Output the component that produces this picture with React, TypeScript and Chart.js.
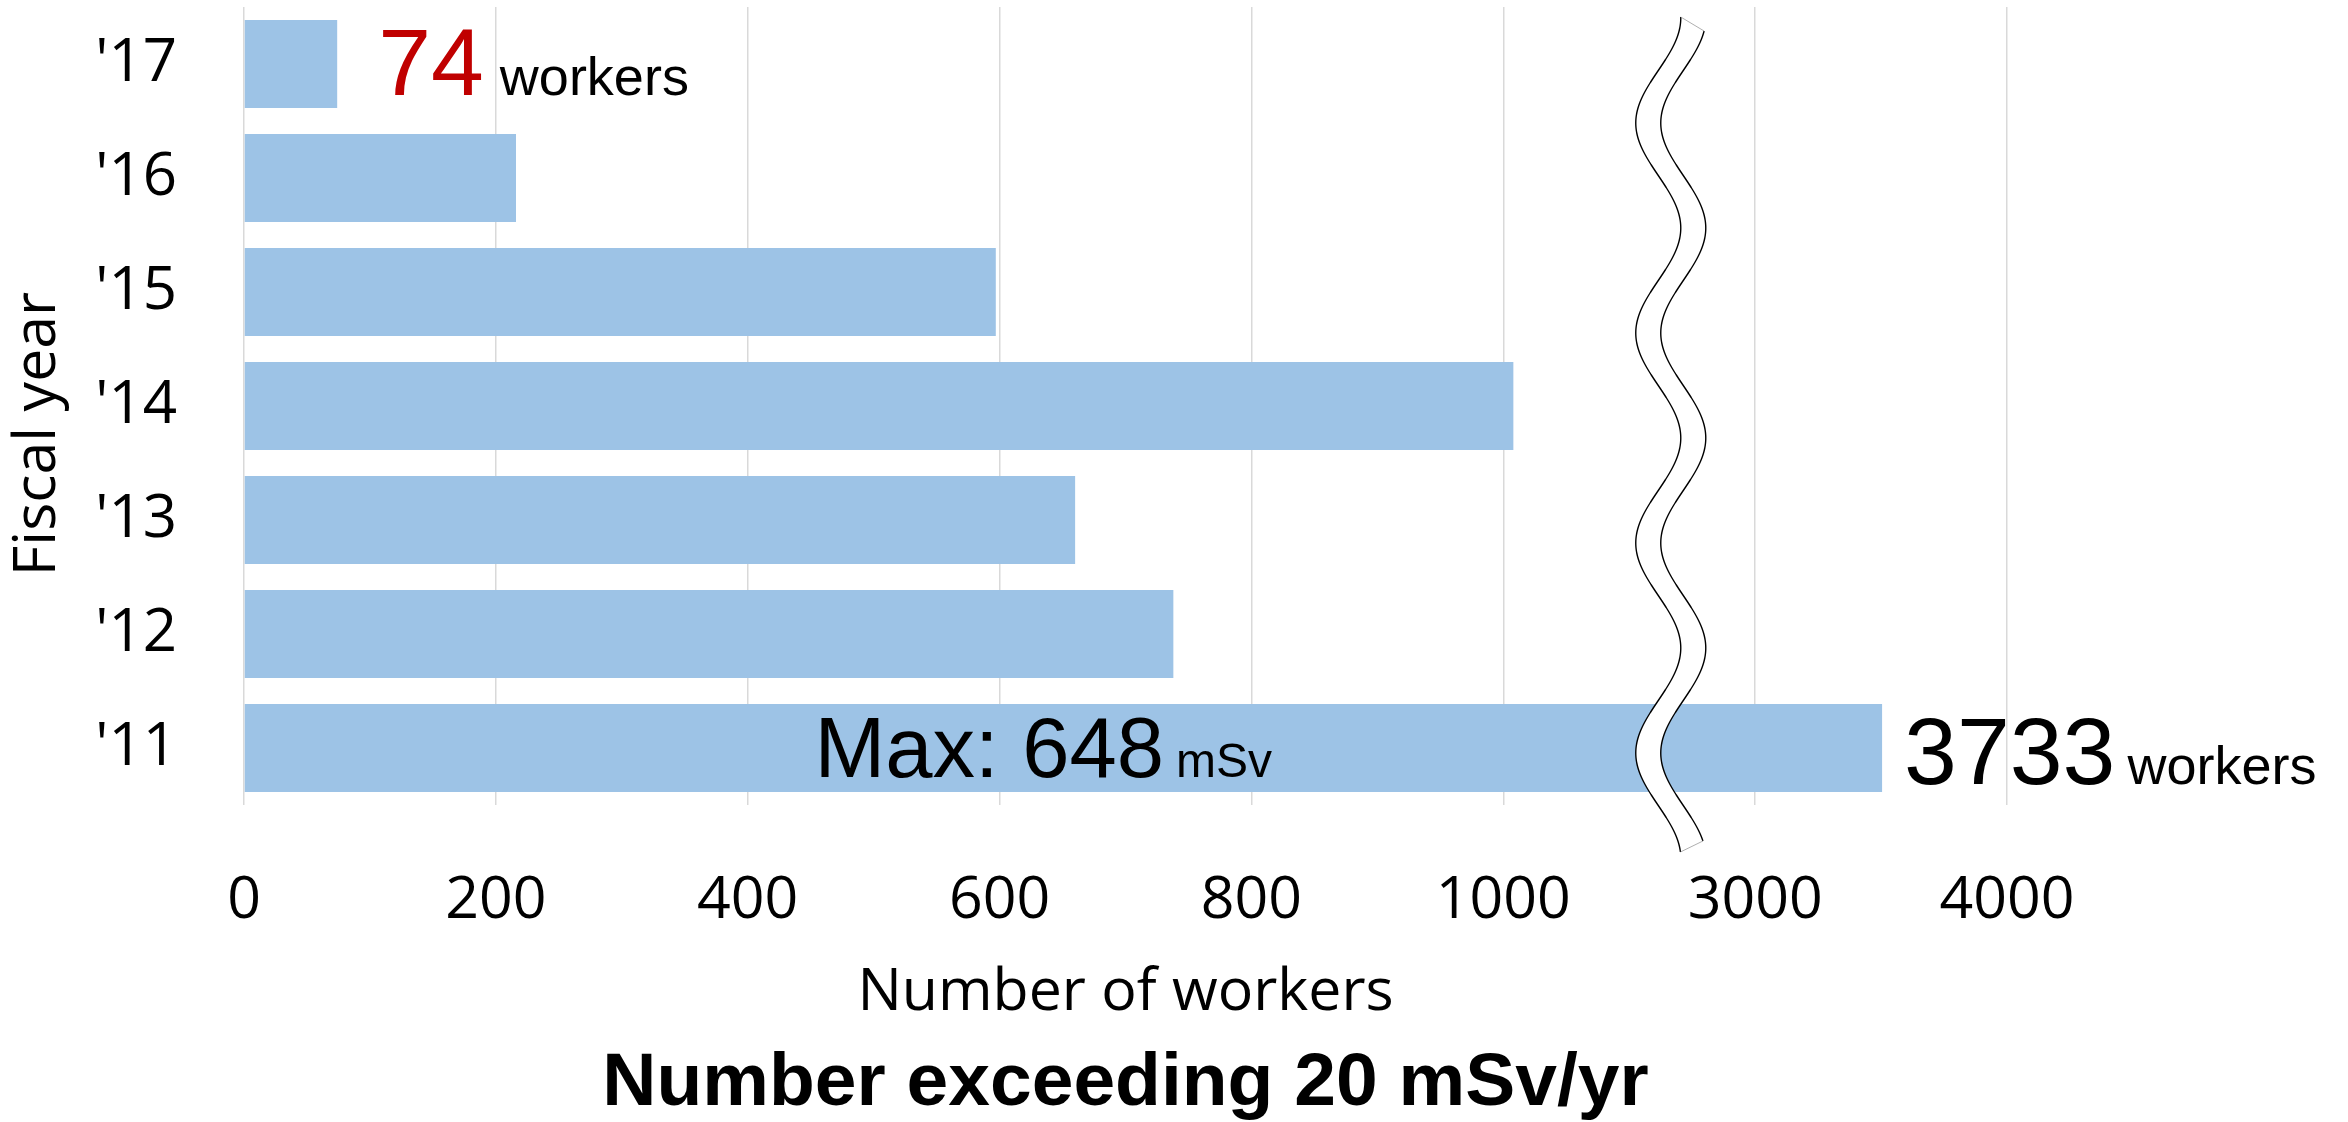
import { useEffect, useRef } from "react";
import { Chart, registerables } from "chart.js";

Chart.register(...registerables);

// ---- data ----
const fiscalYears = ["'11", "'12", "'13", "'14", "'15", "'16", "'17"];
// bar lengths as drawn on the (broken) x axis, in workers
const workersOver20 = [3504, 738, 660, 1008, 597, 216, 74];
const xTickLabels = [0, 200, 400, 600, 800, 1000, 3000, 4000];
const latestCount = "74";
const firstYearCount = "3733";
const firstYearMaxDose = "648";
const unitWorkers = "workers";
const unitDose = "mSv";

// broken axis: 0..1000 linear, then 3000..4000 squeezed into two tick steps
const BREAK_FROM = 1000;
const BREAK_TO = 3000;
const STEP = 200;
const AFTER_BREAK_SCALE = 5; // 1000 workers per 200 axis units after the break
const toAxis = (v: number) =>
  v < BREAK_TO ? v : BREAK_FROM + STEP + (v - BREAK_TO) / AFTER_BREAK_SCALE;
const AXIS_MAX = toAxis(xTickLabels[xTickLabels.length - 1]);
const BREAK_MARK_AT = 1133; // axis units where the wavy break sits
const Y_TITLE_SHIFT = 28;

const SANS = "'Open Sans', 'Noto Sans', sans-serif";
const ARIAL = "'Liberation Sans', Arial, sans-serif";

const axisBreakPlugin = {
  id: "axisBreak",
  afterDatasetsDraw(chart: any) {
    const { ctx, chartArea } = chart;
    const xs = chart.scales.x;
    const cx = xs.getPixelForValue(BREAK_MARK_AT);
    const amp = 22.5;
    const period = 210;
    const gap = 25;
    const top = chartArea.top + 10;
    const bottom = chartArea.bottom + 47;
    const phase = chartArea.top + 116;
    const xl = (y: number) =>
      cx - gap / 2 - amp * Math.cos((2 * Math.PI * (y - phase)) / period);
    const xr = (y: number) => xl(y) + gap;
    const topR = top + 14;
    const botR = bottom - 11;

    ctx.save();
    ctx.beginPath();
    ctx.moveTo(xl(top), top);
    for (let y = top; y <= bottom; y += 1) ctx.lineTo(xl(y), y);
    ctx.lineTo(xl(bottom), bottom);
    ctx.lineTo(xr(botR), botR);
    for (let y = botR; y >= topR; y -= 1) ctx.lineTo(xr(y), y);
    ctx.lineTo(xr(topR), topR);
    ctx.closePath();
    ctx.fillStyle = "#ffffff";
    ctx.fill();

    ctx.strokeStyle = "#000000";
    ctx.lineWidth = 1.4;
    ctx.beginPath();
    ctx.moveTo(xl(top), top);
    for (let y = top; y <= bottom; y += 1) ctx.lineTo(xl(y), y);
    ctx.stroke();
    ctx.beginPath();
    ctx.moveTo(xr(topR), topR);
    for (let y = topR; y <= botR; y += 1) ctx.lineTo(xr(y), y);
    ctx.stroke();

    ctx.strokeStyle = "#9a9a9a";
    ctx.lineWidth = 0.8;
    ctx.beginPath();
    ctx.moveTo(xl(top), top);
    ctx.lineTo(xr(topR), topR);
    ctx.moveTo(xl(bottom), bottom);
    ctx.lineTo(xr(botR), botR);
    ctx.stroke();
    ctx.restore();
  },
};

function drawPair(
  ctx: CanvasRenderingContext2D,
  x: number,
  baseline: number,
  big: string,
  bigSize: number,
  bigColor: string,
  small: string,
  smallSize: number,
  gap: number
) {
  ctx.textAlign = "left";
  ctx.textBaseline = "alphabetic";
  ctx.font = `${bigSize}px ${ARIAL}`;
  ctx.fillStyle = bigColor;
  ctx.fillText(big, x, baseline);
  const w = ctx.measureText(big).width;
  ctx.font = `${smallSize}px ${ARIAL}`;
  ctx.fillStyle = "#000000";
  ctx.fillText(small, x + w + gap, baseline);
}

const calloutPlugin = {
  id: "callouts",
  afterDraw(chart: any) {
    const { ctx } = chart;
    const meta = chart.getDatasetMeta(0);
    const last = meta.data[fiscalYears.length - 1];
    const first = meta.data[0];
    const xs = chart.scales.x;
    ctx.save();
    drawPair(ctx, last.x + 41, last.y + 31, latestCount, 95, "#C00000", unitWorkers, 54, 16);
    drawPair(ctx, first.x + 22, first.y + 36, firstYearCount, 95, "#000000", unitWorkers, 54, 12);
    drawPair(ctx, xs.getPixelForValue(453), first.y + 29, `Max: ${firstYearMaxDose}`, 85, "#000000", unitDose, 48, 12);
    ctx.restore();
  },
};

export default function App() {
  const canvasRef = useRef<HTMLCanvasElement | null>(null);

  useEffect(() => {
    document.body.style.margin = "0";
    const canvas = canvasRef.current;
    if (!canvas) return;
    const chart = new Chart(canvas, {
      type: "bar",
      data: {
        labels: fiscalYears,
        datasets: [
          {
            data: workersOver20.map(toAxis),
            backgroundColor: "#9DC3E6",
            borderWidth: 0,
            barPercentage: 0.772,
            categoryPercentage: 1,
          },
        ],
      },
      options: {
        indexAxis: "y",
        responsive: false,
        maintainAspectRatio: false,
        animation: false,
        layout: { padding: { top: 7, right: 341, bottom: 0, left: 0 } },
        plugins: {
          legend: { display: false },
          tooltip: { enabled: false },
          title: {
            display: true,
            text: "Number exceeding 20 mSv/yr",
            position: "bottom",
            fullSize: false,
            color: "#000000",
            font: { family: ARIAL, size: 75, weight: "bold", lineHeight: 1 },
            padding: 0,
          },
        },
        scales: {
          x: {
            type: "linear",
            min: 0,
            max: AXIS_MAX,
            afterBuildTicks: (scale: any) => {
              scale.ticks = xTickLabels.map((_, i) => ({ value: i * STEP }));
            },
            ticks: {
              color: "#000000",
              font: { family: SANS, size: 59 },
              padding: 61,
              maxRotation: 0,
              autoSkip: false,
              callback: (_v: any, i: number) => String(xTickLabels[i]),
            },
            grid: {
              color: "#D9D9D9",
              lineWidth: 1.5,
              drawTicks: false,
            },
            border: { display: false },
            title: {
              display: true,
              text: "Number of workers",
              color: "#000000",
              font: { family: SANS, size: 59 },
              padding: { top: 0, bottom: 18 },
            },
            afterFit: (scale: any) => {
              scale.height = 242;
              scale.paddingLeft = 0;
              scale.paddingRight = 0;
            },
          },
          y: {
            reverse: true,
            ticks: {
              color: "#000000",
              font: { family: SANS, size: 60 },
              padding: 67,
            },
            grid: { display: false, drawTicks: false },
            border: { display: false },
            title: {
              display: true,
              text: "Fiscal year",
              color: "#000000",
              font: { family: SANS, size: 59 },
              padding: { top: 3, bottom: 0 },
            },
            afterFit: (scale: any) => {
              scale.width = 244;
              scale.paddingTop = 0;
              scale.paddingBottom = 0;
              if (!scale.__titleShifted) {
                const orig = scale.drawTitle.bind(scale);
                scale.drawTitle = () => {
                  scale.ctx.save();
                  scale.ctx.translate(0, Y_TITLE_SHIFT);
                  orig();
                  scale.ctx.restore();
                };
                scale.__titleShifted = true;
              }
            },
          },
        },
      },
      plugins: [axisBreakPlugin, calloutPlugin],
    } as any);
    return () => chart.destroy();
  }, []);

  return (
    <div style={{ width: 2348, height: 1122, background: "#ffffff" }}>
      <canvas ref={canvasRef} width={2348} height={1122} style={{ display: "block" }} />
    </div>
  );
}
